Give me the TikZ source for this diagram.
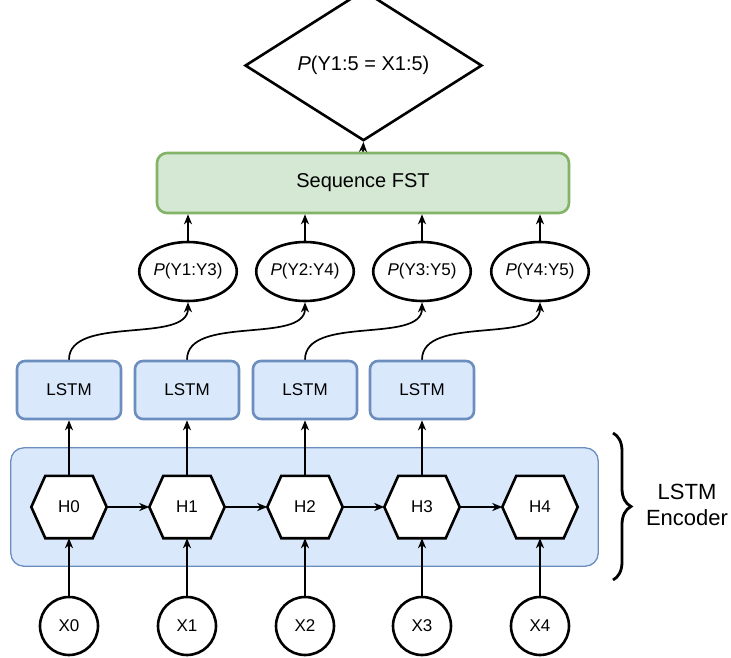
\documentclass[tikz,border=0pt]{standalone}
\usepackage{fontspec}
\setmainfont{Liberation Sans}
\usetikzlibrary{shapes.geometric,arrows.meta,backgrounds,decorations.pathreplacing}
\definecolor{bluefill}{HTML}{DAE8FC}
\definecolor{blueline}{HTML}{6C8EBF}
\definecolor{greenfill}{HTML}{D5E8D4}
\definecolor{greenline}{HTML}{82B366}
\begin{document}
\begin{tikzpicture}[x=1pt,y=-1pt,
  every node/.style={font=\fontsize{17}{20}\selectfont, inner sep=0pt},
  arr/.style={line width=1.7pt,-{Stealth[length=10pt,width=8pt,inset=3pt]}},
  lstmbox/.style={draw=blueline, fill=bluefill, line width=2.6pt, rounded corners=8pt, minimum width=104pt, minimum height=58pt},
  probell/.style={ellipse, draw, line width=2.6pt, fill=white, minimum width=90pt, minimum height=59pt},
  hexbox/.style={minimum width=75pt, minimum height=62pt},
  hexline/.style={draw, fill=white, line width=2.6pt},
  xcirc/.style={circle, draw, line width=2.6pt, fill=white, minimum size=58pt},
]
\useasboundingbox (0,0) rectangle (731,658);

% top
\node[diamond, draw, line width=2.6pt, fill=white, minimum width=237pt, minimum height=117pt, font=\fontsize{20}{24}\selectfont] (goal) at (363.5,65.5) {\textit{P}(Y1:5 = X1:5)};
\node[draw=greenline, fill=greenfill, line width=2.6pt, rounded corners=10pt, minimum width=412pt, minimum height=60pt, font=\fontsize{20}{24}\selectfont] (fst) at (363,183) {Sequence FST};
\draw[arr] (fst.north) -- (goal.south);

% probabilities
\node[probell] (p1) at (188,271.5) {\textit{P}(Y1:Y3)};
\node[probell] (p2) at (305,271.5) {\textit{P}(Y2:Y4)};
\node[probell] (p3) at (422,271.5) {\textit{P}(Y3:Y5)};
\node[probell] (p4) at (540,271.5) {\textit{P}(Y4:Y5)};
\foreach \i in {1,2,3,4}{
  \draw[arr] (p\i.north) -- (fst.south -| p\i.north);
}

% LSTM boxes
\node[lstmbox] (l0) at (69,390) {LSTM};
\node[lstmbox] (l1) at (187,390) {LSTM};
\node[lstmbox] (l2) at (305,390) {LSTM};
\node[lstmbox] (l3) at (422,390) {LSTM};
\foreach \a/\b in {0/1,1/2,2/3,3/4}{
  \draw[arr] (l\a.north) .. controls ([yshift=45pt]l\a.north) and ([yshift=-42pt]p\b.south) .. (p\b.south);
}

% hidden states
\node[hexbox] (h0) at (69,507) {H0};
\node[hexbox] (h1) at (187,507) {H1};
\node[hexbox] (h2) at (305,507) {H2};
\node[hexbox] (h3) at (422,507) {H3};
\node[hexbox] (h4) at (540,507) {H4};
\node[minimum width=587pt, minimum height=118pt] (enc) at (304.5,507) {};
\begin{scope}[on background layer]
  \draw[draw=blueline, fill=bluefill, line width=1.3pt, rounded corners=13pt] (enc.north west) rectangle (enc.south east);
  \foreach \i in {0,...,4}{
    \path[hexline] ([xshift=14pt]h\i.north west) -- ([xshift=-14pt]h\i.north east) -- (h\i.east) -- ([xshift=-14pt]h\i.south east) -- ([xshift=14pt]h\i.south west) -- (h\i.west) -- cycle;
  }
\end{scope}
\foreach \a/\b in {0/1,1/2,2/3,3/4}{
  \draw[arr] (h\a.east) -- (h\b.west);
}
\foreach \i in {0,1,2,3}{
  \draw[arr] (h\i.north) -- (l\i.south);
}

% inputs
\node[xcirc] (x0) at (69,626) {X0};
\node[xcirc] (x1) at (187,626) {X1};
\node[xcirc] (x2) at (305,626) {X2};
\node[xcirc] (x3) at (422,626) {X3};
\node[xcirc] (x4) at (540,626) {X4};
\foreach \i in {0,...,4}{
  \draw[arr] (x\i.north) -- (h\i.south);
}

% brace and label
\coordinate (btop) at (613,433);
\coordinate (bbot) at (613,580);
\draw[line width=2.8pt, decorate, decoration={brace, amplitude=18pt}] (btop) -- (bbot);
\node[font=\fontsize{22}{26}\selectfont, align=center] (enclabel) at (687,505) {LSTM\\Encoder};
\end{tikzpicture}
\end{document}
